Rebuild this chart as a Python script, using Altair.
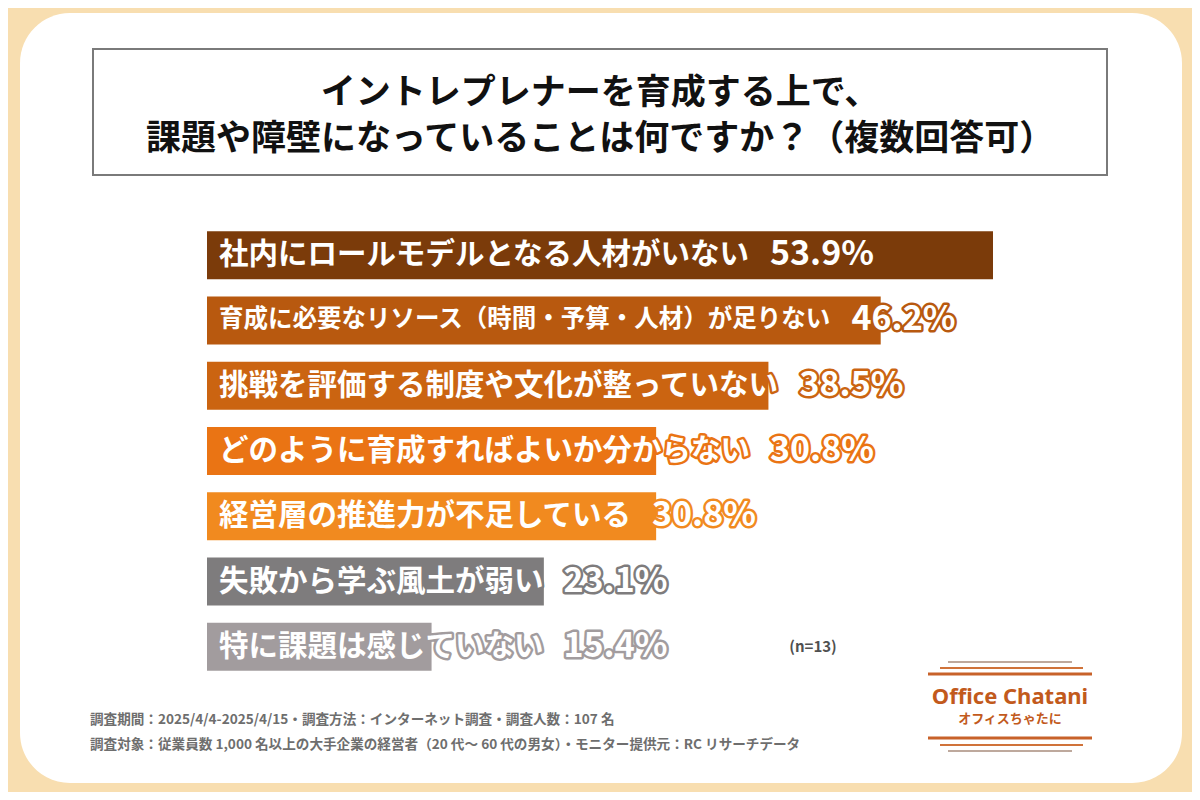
import altair as alt
import pandas as pd

# ---------------- data ----------------
items = [
    "社内にロールモデルとなる人材がいない",
    "育成に必要なリソース（時間・予算・人材）が足りない",
    "挑戦を評価する制度や文化が整っていない",
    "どのように育成すればよいか分からない",
    "経営層の推進力が不足している",
    "失敗から学ぶ風土が弱い",
    "特に課題は感じていない",
]
values = [53.9, 46.2, 38.5, 30.8, 30.8, 23.1, 15.4]
bar_colors = ["#7b3b0a", "#b8590f", "#cb6411", "#ea7414", "#f18a1f", "#7e7c7d", "#a29c9e"]

title_lines = [
    "イントレプレナーを育成する上で、",
    "課題や障壁になっていることは何ですか？（複数回答可）",
]
note_n = "(n=13)"
footnotes = [
    "調査期間：2025/4/4-2025/4/15・調査方法：インターネット調査・調査人数：107 名",
    "調査対象：従業員数 1,000 名以上の大手企業の経営者（20 代～ 60 代の男女）・モニター提供元：RC リサーチデータ",
]
logo_main = "Office Chatani"
logo_sub = "オフィスちゃたに"

df = pd.DataFrame({"item": items, "value": values})
df["pct"] = [f"{v:.1f}%" for v in values]

FONT = "Noto Sans CJK JP"
W, H = 1184, 784

one = alt.Data(values=[{"k": 1}])

y_enc = alt.Y(
    "item:N",
    sort=items,
    scale=alt.Scale(range=[223, 663], paddingInner=0.26, paddingOuter=0),
    axis=None,
)
fill_scale = alt.Scale(domain=items, range=bar_colors)

# background panel
panel = alt.Chart(one).mark_rect(fill="white", cornerRadius=50).encode(
    x=alt.value(12), x2=alt.value(1174), y=alt.value(5), y2=alt.value(775)
)

# title box
tbox = alt.Chart(one).mark_rect(fill="white", stroke="#7a7a7a", strokeWidth=2).encode(
    x=alt.value(85), x2=alt.value(1099), y=alt.value(41), y2=alt.value(167)
)
t1 = alt.Chart(one).mark_text(
    text=title_lines[0], font=FONT, fontSize=35, fontWeight="bold", color="#111111",
    align="center", baseline="middle",
).encode(x=alt.value(592), y=alt.value(85))
t2 = alt.Chart(one).mark_text(
    text=title_lines[1], font=FONT, fontSize=35, fontWeight="bold", color="#111111",
    align="center", baseline="middle",
).encode(x=alt.value(592), y=alt.value(131))

base = alt.Chart(df)

bars = base.mark_bar(size=48).encode(
    x=alt.X("value:Q", scale=alt.Scale(domain=[0, 53.9], range=[199, 985]), axis=None),
    x2=alt.X2(datum=0),
    y=y_enc,
    fill=alt.Fill("item:N", scale=fill_scale, legend=None),
)

lab = base.transform_calculate(
    fs="length(datum.item) > 20 ? 24.5 : 29.5",
).transform_calculate(
    px="211 + length(datum.item) * datum.fs + 20"
)

label_outline = lab.mark_text(
    font=FONT, fontWeight="bold", align="left", baseline="middle",
    strokeWidth=5, strokeJoin="round",
).encode(
    x=alt.value(211), y=y_enc, text="item:N",
    size=alt.Size("fs:Q", scale=None, legend=None),
    fill=alt.Fill("item:N", scale=fill_scale, legend=None),
    stroke=alt.Stroke("item:N", scale=fill_scale, legend=None),
)
label_text = lab.mark_text(
    font=FONT, fontWeight="bold", align="left", baseline="middle", fill="white",
).encode(
    x=alt.value(211), y=y_enc, text="item:N",
    size=alt.Size("fs:Q", scale=None, legend=None),
)

pct_outline = lab.mark_text(
    font=FONT, fontWeight="bold", align="left", baseline="middle", fontSize=34,
    strokeWidth=5, strokeJoin="round",
).encode(
    x=alt.X("px:Q", scale=None), y=y_enc, text="pct:N",
    fill=alt.Fill("item:N", scale=fill_scale, legend=None),
    stroke=alt.Stroke("item:N", scale=fill_scale, legend=None),
)
pct_text = lab.mark_text(
    font=FONT, fontWeight="bold", align="left", baseline="middle", fontSize=34, fill="white",
).encode(
    x=alt.X("px:Q", scale=None), y=y_enc, text="pct:N",
)

nnote = alt.Chart(one).mark_text(
    text=note_n, font=FONT, fontSize=15, fontWeight="bold", color="#505050",
    align="center", baseline="middle",
).encode(x=alt.value(805), y=alt.value(639))

f1 = alt.Chart(one).mark_text(
    text=footnotes[0], font=FONT, fontSize=13.6, fontWeight="bold", color="#6e6e6e",
    align="left", baseline="middle",
).encode(x=alt.value(82), y=alt.value(712))
f2 = alt.Chart(one).mark_text(
    text=footnotes[1], font=FONT, fontSize=13.6, fontWeight="bold", color="#6e6e6e",
    align="left", baseline="middle",
).encode(x=alt.value(82), y=alt.value(737))

# logo
def hline(x1, x2, y, color, sw):
    return alt.Chart(one).mark_rule(color=color, strokeWidth=sw).encode(
        x=alt.value(x1), x2=alt.value(x2), y=alt.value(y)
    )

logo_lines = [
    hline(940, 1064, 654, "#a88c7c", 1.5),
    hline(932, 1075, 660, "#d0733a", 2),
    hline(920, 1084, 666, "#c8622a", 3),
    hline(920, 1084, 730, "#c8622a", 3),
    hline(932, 1075, 737, "#d0733a", 2),
    hline(940, 1064, 743, "#a88c7c", 1.5),
]
logo_t1 = alt.Chart(one).mark_text(
    text=logo_main, font="Noto Sans", fontSize=22, fontWeight="bold", color="#c25a1c",
    align="center", baseline="middle",
).encode(x=alt.value(1002), y=alt.value(689))
logo_t2 = alt.Chart(one).mark_text(
    text=logo_sub, font=FONT, fontSize=13, fontWeight="bold", color="#c25a1c",
    align="center", baseline="middle",
).encode(x=alt.value(1002), y=alt.value(711))

chart = alt.layer(
    panel, tbox, t1, t2, bars, label_outline, label_text, pct_outline, pct_text,
    nnote, f1, f2, *logo_lines, logo_t1, logo_t2,
).properties(
    width=W, height=H, padding=0,
    autosize=alt.AutoSizeParams(type="none"),
    background="#f8deb0",
).configure_view(stroke=None)

chart.save("out.html", embed_options={"renderer": "svg", "actions": False})
